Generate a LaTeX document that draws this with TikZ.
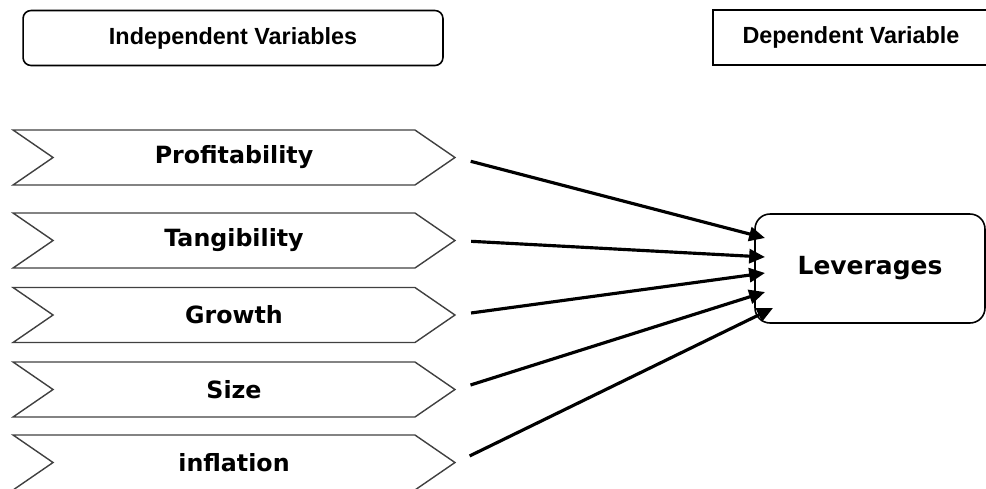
\documentclass[tikz,border=0pt]{standalone}
\usepackage{fontspec}
\setmainfont{DejaVu Sans}
\newfontfamily\headfont{Liberation Sans}
\usetikzlibrary{shapes.symbols,arrows.meta}
\tikzset{
  headbox/.style={draw=black,line width=0.9pt,minimum height=1.1cm,inner sep=0pt,
    font=\headfont\fontsize{13.3}{15}\selectfont\bfseries},
  chev/.style={signal,signal from=west,signal to=east,signal pointer angle=69,
    draw=black!75,line width=0.8pt,minimum width=8.84cm,minimum height=1.1cm,inner sep=0pt,
    font=\fontsize{13.5}{15}\selectfont\bfseries},
  target/.style={draw=black,line width=0.9pt,rounded corners=0.3cm,minimum width=4.6cm,
    minimum height=2.18cm,inner sep=0pt,font=\fontsize{14.2}{16}\selectfont\bfseries}
}
\begin{document}
\begin{tikzpicture}[x=0.02cm,y=-0.02cm,>={Triangle[length=9pt,width=8pt]}]
\useasboundingbox (0,0) rectangle (986,488);
% headings
\node[headbox,rounded corners=0.16cm,minimum width=8.4cm] (indep) at (233,38) {Independent Variables};
\node[headbox,minimum width=5.52cm] (dep) at (851,37.5) {Dependent Variable};
% independent variables
\node[chev] (prof) at (234,157.5) {Profitability};
\node[chev] (tang) at (234,240.5) {Tangibility};
\node[chev] (grow) at (234,315) {Growth};
\node[chev] (size) at (234,389.5) {Size};
\node[chev] (infl) at (234,462.5) {inflation};
% dependent variable
\node[target] (lev) at (870,268.5) {Leverages};
\coordinate (e1) at (765,238);
\coordinate (e2) at (765,257);
\coordinate (e3) at (765,273);
\coordinate (e4) at (765,292);
\coordinate (e5) at (773,308);
\draw[->,line width=1.8pt,shorten <=0.3cm] (prof.east) -- (e1);
\draw[->,line width=1.8pt,shorten <=0.3cm] (tang.east) -- (e2);
\draw[->,line width=1.8pt,shorten <=0.3cm] (grow.east) -- (e3);
\draw[->,line width=1.8pt,shorten <=0.3cm] (size.east) -- (e4);
\draw[->,line width=1.8pt,shorten <=0.3cm] (infl.east) -- (e5);
\end{tikzpicture}
\end{document}
